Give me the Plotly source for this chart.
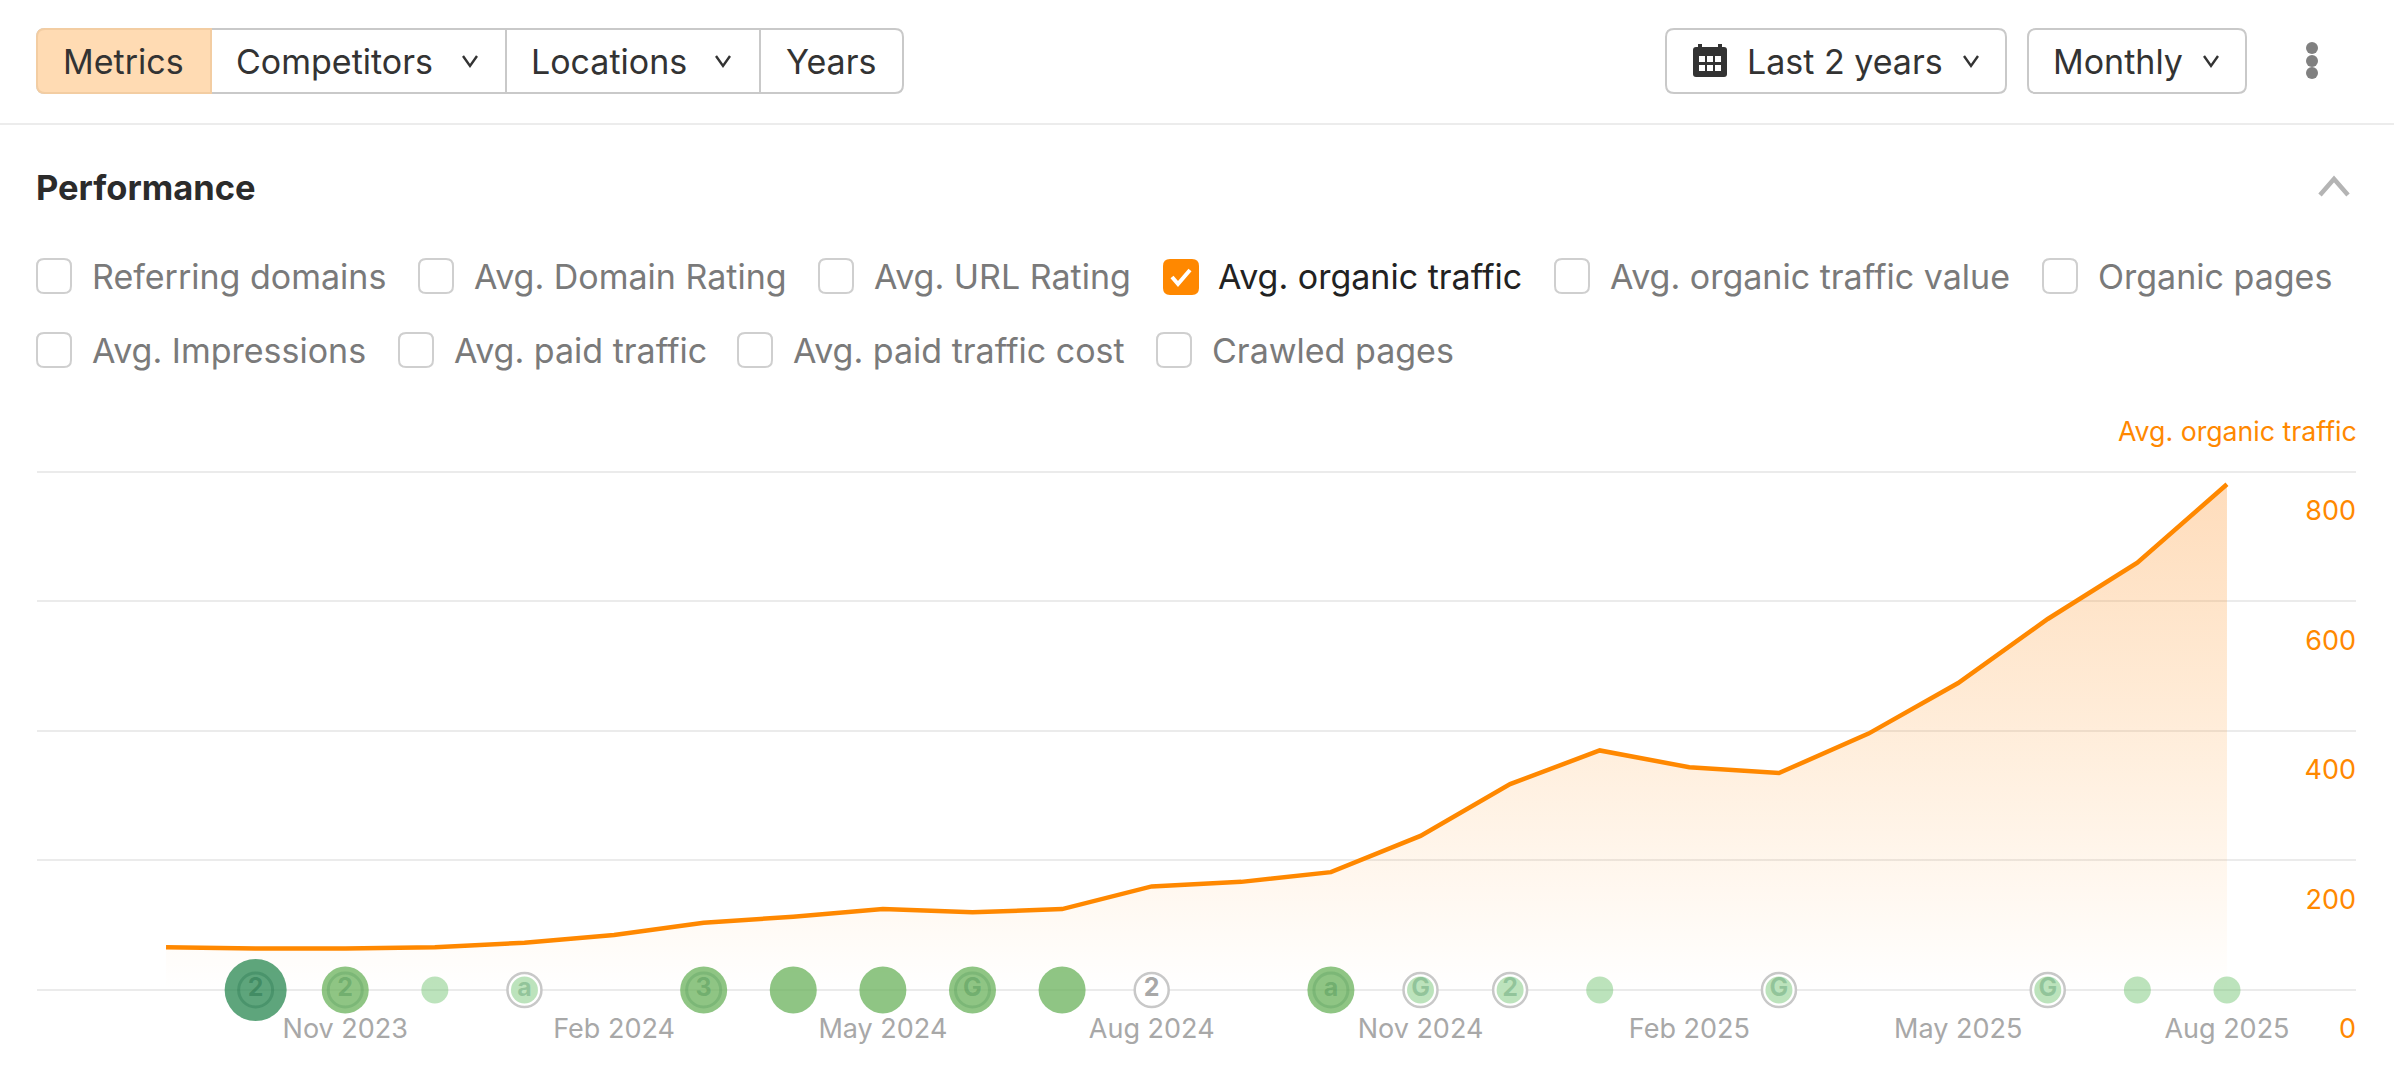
import plotly.graph_objects as go

W = 2394
H = 1078

# Monthly values
months = ["Sep 2023", "Oct 2023", "Nov 2023", "Dec 2023", "Jan 2024", "Feb 2024", "Mar 2024", "Apr 2024",
          "May 2024", "Jun 2024", "Jul 2024", "Aug 2024", "Sep 2024", "Oct 2024", "Nov 2024", "Dec 2024",
          "Jan 2025", "Feb 2025", "Mar 2025", "Apr 2025", "May 2025", "Jun 2025", "Jul 2025", "Aug 2025"]
organic_traffic = [66, 64, 64, 66, 73, 85, 104, 113, 125, 120, 125, 160,
                   167, 182, 238, 318, 370, 344, 335, 396, 474, 573, 660, 781]

x_ticks = ["Nov 2023", "Feb 2024", "May 2024", "Aug 2024", "Nov 2024", "Feb 2025", "May 2025", "Aug 2025"]
y_ticks = [0, 200, 400, 600, 800]

# Update markers along the bottom
event_months = ["Oct 2023", "Nov 2023", "Dec 2023", "Jan 2024", "Mar 2024", "Apr 2024", "May 2024", "Jun 2024", "Jul 2024",
                "Aug 2024", "Oct 2024", "Nov 2024", "Dec 2024", "Jan 2025", "Mar 2025", "Jun 2025", "Jul 2025", "Aug 2025"]
event_tiers = [3, 2, 1, 1, 2, 2, 2, 2, 2, 0, 2, 1, 1, 1, 1, 1, 1, 1]
event_labels = ["2", "2", "", "a", "3", "", "", "G", "", "2", "a", "G", "2", "", "G", "G", "", ""]

row1_labels = ["Referring domains", "Avg. Domain Rating", "Avg. URL Rating", "Avg. organic traffic",
               "Avg. organic traffic value", "Organic pages"]
row2_labels = ["Avg. Impressions", "Avg. paid traffic", "Avg. paid traffic cost", "Crawled pages"]
row1_boxes = [37, 419, 819, 1163, 1555, 2043]
row2_boxes = [37, 399, 738, 1157]

ORANGE = "#ff8800"
FONT = "Inter"

tier_size = {1: 27, 2: 47, 3: 62}
tier_fill = {1: "rgba(100,190,100,0.43)", 2: "rgba(100,175,85,0.72)", 3: "rgba(40,135,80,0.75)"}
tier_text = {0: "#a8a8a8", 1: "rgba(40,120,70,0.28)", 2: "rgba(40,120,60,0.30)", 3: "rgba(20,100,60,0.38)"}
tier_ring = {2: "rgba(40,120,60,0.18)", 3: "rgba(20,100,60,0.26)"}

# y axis runs past 0 and 800 so both end gridlines and the shifted 0 label are drawn
Y_PX = (990 - 472) / 800
Y_MIN = -115
Y_MAX = 830


def rounded(x0, y0, x1, y1, r):
    return (f"M{x0+r},{y0} L{x1-r},{y0} Q{x1},{y0} {x1},{y0+r} L{x1},{y1-r} Q{x1},{y1} {x1-r},{y1} "
            f"L{x0+r},{y1} Q{x0},{y1} {x0},{y1-r} L{x0},{y0+r} Q{x0},{y0} {x0+r},{y0} Z")


shapes = []
notes = []


def add_path(path, fill="rgba(0,0,0,0)", line="rgba(0,0,0,0)", width=0):
    shapes.append(dict(type="path", path=path, xref="x2", yref="y2", fillcolor=fill,
                       line=dict(color=line, width=width)))


def add_text(x, y, text, size=34, color="#333333", anchor="left", bold=False):
    if bold:
        text = f"<b>{text}</b>"
    x = x - 3 if anchor == "left" else x + 3
    notes.append(dict(x=x, y=y, xref="x2", yref="y2", text=text, showarrow=False, xanchor=anchor, yanchor="middle",
                      font=dict(family=FONT, size=size, color=color)))


def chevron(x, y, w=7, h=5, color="#333333", width=2.4):
    add_path(f"M{x-w},{y-h} L{x},{y+h} L{x+w},{y-h}", line=color, width=width)


def checkbox(x, y, checked=False):
    if checked:
        add_path(rounded(x, y, x + 36, y + 36, 7), fill=ORANGE)
        add_path(f"M{x+9},{y+18} L{x+15},{y+25} L{x+27},{y+11}", line="white", width=4)
    else:
        add_path(rounded(x, y, x + 34, y + 34, 7), fill="white", line="#cfcfcf", width=2)


# Top button bar
add_path(rounded(37, 29, 903, 93, 8), fill="white", line="#c9c9c9", width=2)
add_path("M45,29 L211,29 L211,93 L45,93 Q37,93 37,85 L37,37 Q37,29 45,29 Z", fill="#ffdbb3", line="#f3cda2", width=2)
add_path("M506,29 L506,93", line="#c9c9c9", width=2)
add_path("M760,29 L760,93", line="#c9c9c9", width=2)
add_text(64, 61, "Metrics")
add_text(237, 61, "Competitors")
chevron(470, 61)
add_text(532, 61, "Locations")
chevron(723, 61)
add_text(787, 61, "Years")

add_path(rounded(1666, 29, 2006, 93, 8), fill="white", line="#c9c9c9", width=2)
add_path(rounded(2028, 29, 2246, 93, 8), fill="white", line="#c9c9c9", width=2)
# calendar icon
add_path(rounded(1693, 47, 1727, 77, 3), fill="#333333")
add_path("M1700,44 L1700,50 M1720,44 L1720,50", line="#333333", width=4)
for cx in [1699, 1707, 1715]:
    for cy in [56, 65]:
        add_path(f"M{cx},{cy} L{cx+6},{cy} L{cx+6},{cy+6} L{cx},{cy+6} Z", fill="white")
add_text(1748, 61, "Last 2 years")
chevron(1971, 61)
add_text(2054, 61, "Monthly")
chevron(2211, 61)
for cy in [48, 61, 73]:
    shapes.append(dict(type="circle", xref="x2", yref="y2", x0=2306, x1=2318, y0=cy - 6, y1=cy + 6,
                       fillcolor="#808080", line=dict(width=0)))

add_path("M0,124 L2394,124", line="#ececec", width=2)

# Performance header
add_text(37, 187, "Performance", size=34.5, color="#2b2b2b", bold=True)
chevron(2334, 187, w=14, h=-8, color="#b4b4b4", width=4.5)

# Metric checkboxes
for box, label in zip(row1_boxes, row1_labels):
    on = label == "Avg. organic traffic"
    checkbox(box, 259, on)
    add_text(box + 56, 276, label, color="#222222" if on else "#7a7a7a")
for box, label in zip(row2_boxes, row2_labels):
    checkbox(box, 333)
    add_text(box + 56, 350, label, color="#7a7a7a")

add_text(2356, 431, "Avg. organic traffic", size=26.7, color=ORANGE, anchor="right")

fig = go.Figure()

fig.add_trace(go.Scatter(
    x=months, y=organic_traffic, mode="lines", name="Avg. organic traffic",
    line=dict(color=ORANGE, width=4.5), fill="tozeroy",
    fillgradient=dict(type="vertical", colorscale=[[0, "rgba(255,136,0,0)"], [1, "rgba(253,140,30,0.30)"]]),
    cliponaxis=False, hoverinfo="skip"))

# Outer grey ring, white inside, for the small labelled markers and the empty one
ring_months = [m for m, t, l in zip(event_months, event_tiers, event_labels) if l and t < 2]
fig.add_trace(go.Scatter(
    x=ring_months, y=[0] * len(ring_months), mode="markers", cliponaxis=False, hoverinfo="skip",
    marker=dict(size=34, color="white", line=dict(color="#c8c8c8", width=2.5))))

# Coloured bubbles, one trace per tier
for tier in [1, 2, 3]:
    tier_months = [m for m, t in zip(event_months, event_tiers) if t == tier]
    fig.add_trace(go.Scatter(
        x=tier_months, y=[0] * len(tier_months), mode="markers", cliponaxis=False, hoverinfo="skip",
        marker=dict(size=tier_size[tier], color=tier_fill[tier], line=dict(width=0))))

# Inner ring on the larger labelled bubbles
inner_months = [m for m, t, l in zip(event_months, event_tiers, event_labels) if l and t >= 2]
inner_tiers = [t for t, l in zip(event_tiers, event_labels) if l and t >= 2]
fig.add_trace(go.Scatter(
    x=inner_months, y=[0] * len(inner_months), mode="markers", cliponaxis=False, hoverinfo="skip",
    marker=dict(size=34, color="rgba(0,0,0,0)",
                line=dict(color=[tier_ring[t] for t in inner_tiers], width=3))))

text_months = [m for m, l in zip(event_months, event_labels) if l]
text_labels = [f"<b>{l}</b>" for l in event_labels if l]
text_tiers = [t for t, l in zip(event_tiers, event_labels) if l]
fig.add_trace(go.Scatter(
    x=text_months, y=[0] * len(text_months), mode="text", cliponaxis=False, hoverinfo="skip",
    text=text_labels, textposition="middle center",
    textfont=dict(family=FONT, size=25, color=[tier_text[t] for t in text_tiers])))

# Helper axes in screen pixels for the controls above the chart
fig.add_trace(go.Scatter(x=[0], y=[0], xaxis="x2", yaxis="y2", mode="markers", marker=dict(opacity=0), hoverinfo="skip"))

fig.update_layout(
    width=W, height=H, autosize=False, margin=dict(l=0, r=0, t=0, b=0),
    paper_bgcolor="white", plot_bgcolor="rgba(0,0,0,0)", showlegend=False,
    font=dict(family=FONT), shapes=shapes, annotations=notes,
    xaxis=dict(domain=[37 / W, 2356 / W], type="category", categoryorder="array", categoryarray=months,
               range=[-1.44, 24.44], showgrid=False, zeroline=False, showline=False,
               anchor="free", position=(H - 990) / H,
               tickmode="array", tickvals=x_ticks, ticktext=x_ticks, ticks="",
               ticklabelstandoff=20, tickangle=0, automargin=False,
               tickfont=dict(family=FONT, size=27, color="#a8a8a8")),
    yaxis=dict(domain=[(H - 990 + Y_MIN * Y_PX) / H, (H - 990 + Y_MAX * Y_PX) / H], range=[Y_MIN, Y_MAX],
               side="right", ticklabelposition="inside",
               tickmode="array", tickvals=y_ticks, ticks="", showgrid=True, gridcolor="#ebebeb", gridwidth=2,
               zeroline=False, showline=False, ticklabelshift=39, ticklabelstandoff=-3, automargin=False,
               tickfont=dict(family=FONT, size=27, color=ORANGE)),
    xaxis2=dict(domain=[0, 1], range=[0, W], anchor="y2", visible=False),
    yaxis2=dict(domain=[0, 1], range=[H, 0], anchor="x2", visible=False),
)

fig.write_html("out.html", config={"displayModeBar": False},
               post_script="document.body.style.margin='0';")
